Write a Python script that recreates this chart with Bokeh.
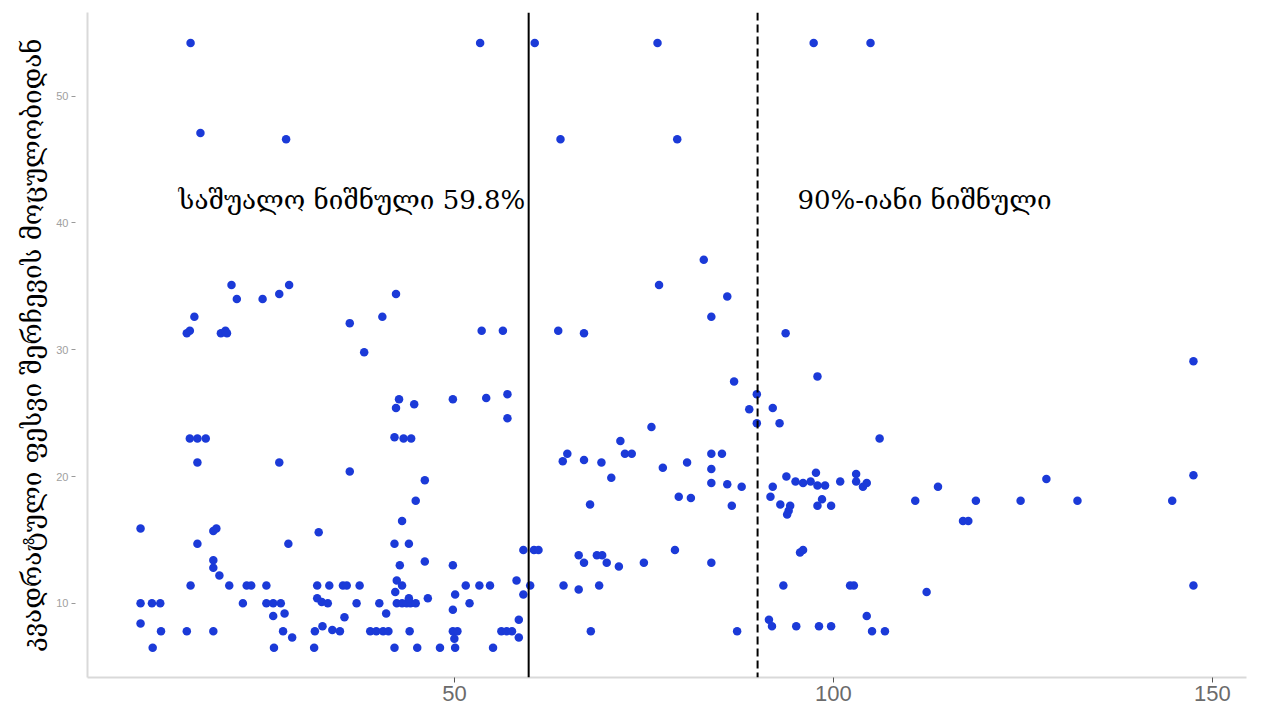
from bokeh.plotting import figure
from bokeh.models import Range1d, Span, Label, FixedTicker
from bokeh.embed import file_html
from bokeh.resources import INLINE

# ---- data ----
pts = [
    # top rows
    (15.2, 54.2), (53.4, 54.2), (60.6, 54.2), (76.8, 54.2), (97.4, 54.2), (104.9, 54.2),
    (16.5, 47.1), (27.8, 46.6), (64.0, 46.6), (79.4, 46.6),
    (82.9, 37.1),
    # left cluster
    (20.6, 35.1), (21.3, 34.0), (24.7, 34.0), (26.9, 34.4), (28.2, 35.1), (42.3, 34.4),
    (15.7, 32.6), (15.1, 31.5), (14.7, 31.3), (19.2, 31.3), (19.8, 31.5), (20.0, 31.3),
    (36.2, 32.1), (40.5, 32.6), (38.1, 29.8), (53.6, 31.5), (56.4, 31.5),
    (42.7, 26.1), (42.3, 25.4), (44.7, 25.7), (49.8, 26.1), (54.2, 26.2), (57.0, 26.5), (57.0, 24.6),
    (15.1, 23.0), (16.1, 23.0), (17.2, 23.0), (42.1, 23.1), (43.3, 23.0), (44.3, 23.0),
    (16.1, 21.1), (26.9, 21.1), (36.2, 20.4), (46.1, 19.7), (44.9, 18.1), (43.1, 16.5),
    (8.6, 15.9), (18.2, 15.7), (18.6, 15.9), (32.1, 15.6),
    (16.1, 14.7), (28.1, 14.7), (42.1, 14.7), (44.0, 14.7),
    (46.1, 13.3), (42.8, 13.0), (49.8, 13.0), (59.1, 14.2), (60.5, 14.2), (61.1, 14.2),
    (18.2, 13.4), (18.2, 12.8), (19.0, 12.2),
    (15.2, 11.4), (20.3, 11.4), (22.6, 11.4), (23.2, 11.4), (25.2, 11.4), (31.9, 11.4),
    (33.5, 11.4), (35.3, 11.4), (35.8, 11.4), (37.5, 11.4), (42.4, 11.8), (43.1, 11.4),
    (51.5, 11.4), (53.3, 11.4), (54.7, 11.4), (58.2, 11.8), (60.0, 11.4),
    (8.6, 10.0), (10.1, 10.0), (11.2, 10.0), (22.1, 10.0), (25.2, 10.0), (26.1, 10.0),
    (27.1, 10.0), (31.9, 10.4), (32.5, 10.1), (33.3, 10.0), (37.1, 10.0), (40.1, 10.0),
    (42.4, 10.0), (43.1, 10.0), (43.7, 10.0), (44.2, 10.0), (44.9, 10.0), (44.0, 10.4),
    (42.2, 10.9), (46.5, 10.4), (50.1, 10.7), (52.0, 10.0), (59.1, 10.7),
    (26.1, 9.0), (27.6, 9.2), (35.5, 8.9), (41.0, 9.2), (49.8, 9.5), (58.5, 8.7), (8.6, 8.4),
    (11.3, 7.8), (14.7, 7.8), (18.2, 7.8), (27.4, 7.8), (28.6, 7.3), (31.6, 7.8), (32.6, 8.2),
    (33.9, 7.9), (34.9, 7.8), (38.9, 7.8), (39.7, 7.8), (40.6, 7.8), (41.3, 7.8), (44.1, 7.8),
    (49.8, 7.8), (50.4, 7.8), (50.0, 7.2), (56.2, 7.8), (56.9, 7.8), (57.6, 7.8), (58.5, 7.3),
    (68.0, 7.8),
    (10.2, 6.5), (26.2, 6.5), (31.5, 6.5), (42.1, 6.5), (45.1, 6.5), (48.1, 6.5), (50.1, 6.5),
    (55.1, 6.5),
    # middle / right cluster
    (77.0, 35.1), (86.0, 34.2), (83.9, 32.6), (63.7, 31.5), (67.1, 31.3), (93.7, 31.3),
    (97.9, 27.9), (86.9, 27.5), (89.9, 26.5), (88.9, 25.3), (92.0, 25.4), (89.9, 24.2),
    (92.9, 24.2), (76.0, 23.9), (106.1, 23.0), (71.9, 22.8), (72.5, 21.8), (73.4, 21.8),
    (64.9, 21.8), (64.3, 21.2), (67.1, 21.3), (69.4, 21.1), (83.9, 21.8), (85.3, 21.8),
    (77.5, 20.7), (80.7, 21.1), (83.9, 20.6), (70.7, 19.9), (83.9, 19.5), (86.0, 19.4),
    (87.9, 19.2), (92.0, 19.2), (93.8, 20.0), (95.0, 19.6), (96.0, 19.5), (97.0, 19.6),
    (97.7, 20.3), (97.9, 19.3), (98.9, 19.3), (100.9, 19.6), (103.0, 20.2), (103.0, 19.6),
    (103.9, 19.2), (104.4, 19.5), (113.8, 19.2), (118.8, 18.1), (110.8, 18.1),
    (117.1, 16.5), (117.8, 16.5),
    (79.6, 18.4), (81.2, 18.3), (67.9, 17.8), (86.6, 17.7), (91.7, 18.4), (93.0, 17.8),
    (94.3, 17.7), (94.1, 17.3), (93.9, 17.0), (97.9, 17.7), (98.5, 18.2), (99.7, 17.7),
    (79.1, 14.2), (95.6, 14.0), (96.0, 14.2), (66.4, 13.8), (67.1, 13.2), (68.8, 13.8),
    (69.5, 13.8), (70.1, 13.2), (71.7, 12.9), (75.0, 13.2), (83.9, 13.2),
    (64.4, 11.4), (66.4, 11.1), (69.1, 11.4), (93.4, 11.4), (102.2, 11.4), (102.7, 11.4),
    (112.3, 10.9),
    (104.4, 9.0), (91.5, 8.7), (91.9, 8.2), (95.1, 8.2), (98.1, 8.2), (99.7, 8.2),
    (105.1, 7.8), (106.8, 7.8), (87.3, 7.8),
    # far right
    (147.5, 11.4), (147.5, 20.1), (147.5, 29.1), (144.7, 18.1), (132.2, 18.1),
    (128.1, 19.8), (124.7, 18.1),
]
pct_values = [p[0] for p in pts]
sqrt_n_values = [p[1] for p in pts]

mean_benchmark = 59.8
p90_benchmark = 90.0
x_ticks = [50, 100, 150]
y_ticks = [10, 20, 30, 40, 50]
mean_text = "საშუალო ნიშნული 59.8%"
p90_text = "90%-იანი ნიშნული"
y_title = "კვადრატული ფესვი შერჩევის მოცულობიდან"

GEO_FONT = "DejaVu Serif"

p = figure(width=1260, height=722, output_backend="svg", toolbar_location=None,
           x_range=Range1d(1.6, 154.5), y_range=Range1d(4.15, 56.6),
           min_border_left=87, min_border_right=14, min_border_top=12, min_border_bottom=45)
p.background_fill_color = "white"
p.border_fill_color = "white"
p.outline_line_color = None
p.xgrid.grid_line_color = None
p.ygrid.grid_line_color = None

# x axis
xa = p.xaxis[0]
xa.ticker = FixedTicker(ticks=x_ticks)
xa.axis_line_color = "#d9d9d9"
xa.axis_line_width = 2
xa.major_tick_line_color = "#555555"
xa.major_tick_out = 5
xa.major_tick_in = 0
xa.minor_tick_line_color = None
xa.major_label_text_font = "Liberation Sans"
xa.major_label_text_font_size = "22px"
xa.major_label_text_color = "#6b6b6b"
xa.major_label_standoff = 3

# y axis
ya = p.yaxis[0]
ya.ticker = FixedTicker(ticks=y_ticks)
ya.axis_line_color = "#d9d9d9"
ya.axis_line_width = 2
ya.major_tick_line_color = "#9a9a9a"
ya.major_tick_out = 16
ya.major_tick_in = -12
ya.minor_tick_line_color = None
ya.major_label_text_font = "Liberation Sans"
ya.major_label_text_font_size = "11px"
ya.major_label_text_color = "#a0a0a0"
ya.major_label_standoff = 3
ya.axis_label = y_title
ya.axis_label_text_font = GEO_FONT
ya.axis_label_text_font_style = "normal"
ya.axis_label_text_font_size = "26px"
ya.axis_label_text_color = "black"
ya.axis_label_standoff = 6

p.scatter(pct_values, sqrt_n_values, size=8.5, color="#1b3ad8", line_color=None)

p.add_layout(Span(location=mean_benchmark, dimension="height", line_color="black", line_width=2))
p.add_layout(Span(location=p90_benchmark, dimension="height", line_color="black",
                  line_width=2, line_dash="8 4"))

p.add_layout(Label(x=mean_benchmark - 0.45, y=41.8, text=mean_text, text_align="right",
                   text_baseline="middle", text_font=GEO_FONT, text_font_size="26px",
                   text_color="black"))
p.add_layout(Label(x=95.25, y=41.8, text=p90_text, text_align="left",
                   text_baseline="middle", text_font=GEO_FONT, text_font_size="26px",
                   text_color="black"))

open("out.html", "w").write(file_html(p, INLINE))
